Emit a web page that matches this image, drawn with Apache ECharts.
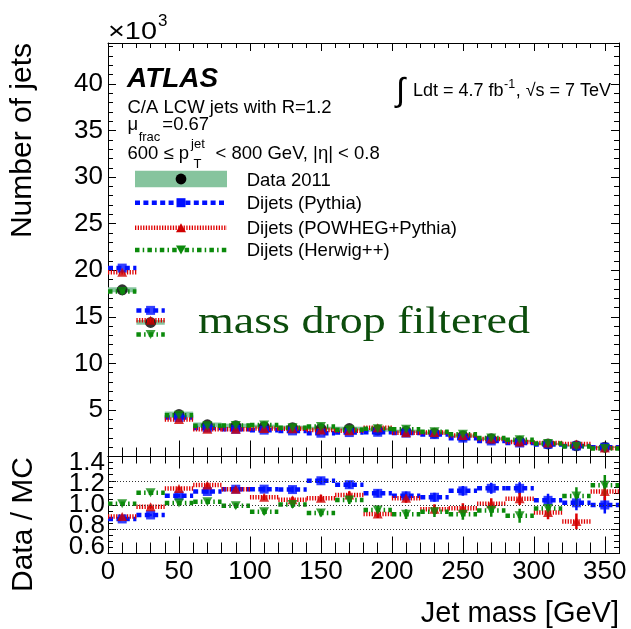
<!DOCTYPE html>
<html>
<head>
<meta charset="utf-8">
<script src="https://cdn.jsdelivr.net/npm/echarts@6/dist/echarts.min.js"></script>
<style>
  html, body { margin: 0; padding: 0; background: #fff; }
  #chart { width: 631px; height: 629px; }
</style>
</head>
<body>
<div id="chart"></div>
<script>
// Jet mass bins (GeV): centres of 20 GeV wide bins
const binCenters = [10, 30, 50, 70, 90, 110, 130, 150, 170, 190, 210, 230, 250, 270, 290, 310, 330, 350];
const binHalfWidth = 10;

// Number of jets per bin
const dataCounts = [17900, 14400, 4500, 3400, 3300, 3200, 3100, 3000, 3000, 2850, 2700, 2500, 2200, 1900, 1650, 1350, 1150, 1000];
const dataSyst   = [270, 250, 320, 250, 230, 220, 210, 200, 200, 190, 180, 170, 160, 140, 130, 110, 100, 90];
const pythia     = [20230, 15690, 4180, 3060, 2920, 2830, 2750, 2500, 2570, 2600, 2510, 2350, 1970, 1670, 1450, 1300, 1130, 1000];
const powheg     = [19780, 14620, 3960, 2920, 2920, 3010, 2970, 2840, 2770, 3080, 2560, 2590, 2260, 1880, 1570, 1440, 1330, 900];
const herwig     = [17720, 13090, 4430, 3310, 3320, 3390, 3090, 3210, 2880, 2970, 2920, 2650, 2380, 1990, 1810, 1390, 1070, 860];

// Statistical uncertainty on Data / MC
const pythiaRatioErr = [0.008, 0.01, 0.015, 0.018, 0.02, 0.022, 0.025, 0.028, 0.03, 0.032, 0.035, 0.038, 0.04, 0.045, 0.05, 0.055, 0.06, 0.07];
const powhegRatioErr = [0.008, 0.01, 0.015, 0.018, 0.02, 0.022, 0.025, 0.028, 0.03, 0.033, 0.036, 0.04, 0.042, 0.046, 0.05, 0.056, 0.065, 0.075];
const herwigRatioErr = [0.01, 0.012, 0.016, 0.02, 0.022, 0.025, 0.028, 0.03, 0.033, 0.036, 0.04, 0.043, 0.047, 0.052, 0.058, 0.065, 0.072, 0.085];

// Axis ranges and ratio tick labels
const massRange  = [0, 360];
const countRange = [0, 44400];
const ratioRange = [0.6, 1.4];
const ratioTicks = [0.6, 0.8, 1.0, 1.2, 1.4];
const ratioGuides = [0.8, 1.0, 1.2];

const SANS = '"Liberation Sans", Arial, Helvetica, sans-serif';
const SERIF = '"Liberation Serif", "Times New Roman", serif';
const C_BLUE = '#0010ff', C_RED = '#e00000', C_RED_MK = '#d00000', C_GREEN = '#0b8a0b', C_BAND = '#86c49e';

const mcSamples = [
  { name: 'Dijets (Pythia)', values: pythia, err: pythiaRatioErr, color: C_BLUE, mark: C_BLUE,
    dash: [5, 3.4], symbol: 'rect', size: [9, 9], rotate: 0 },
  { name: 'Dijets (POWHEG+Pythia)', values: powheg, err: powhegRatioErr, color: C_RED, mark: C_RED_MK,
    dash: [1.3, 1.4], symbol: 'triangle', size: [10, 9], rotate: 0 },
  { name: 'Dijets (Herwig++)', values: herwig, err: herwigRatioErr, color: C_GREEN, mark: C_GREEN,
    dash: [4.5, 3.2, 1.5, 3.2], symbol: 'triangle', size: [10, 9], rotate: 180 }
];

// Horizontal bin-width bar plus optional vertical error bar, drawn per bin
function binBar(color, dash) {
  return function (params, api) {
    const x = api.value(0), y = api.value(1), e = api.value(2);
    const a = api.coord([x - binHalfWidth, y]);
    const b = api.coord([x + binHalfWidth, y]);
    const children = [{
      type: 'line', shape: { x1: a[0], y1: a[1], x2: b[0], y2: b[1] },
      style: { stroke: color, lineWidth: 4.5, lineDash: dash, fill: null }
    }];
    if (e > 0) {
      const lo = api.coord([x, y - e]), hi = api.coord([x, y + e]);
      children.push({
        type: 'line', shape: { x1: lo[0], y1: lo[1], x2: hi[0], y2: hi[1] },
        style: { stroke: color, lineWidth: 2.5, fill: null }
      });
    }
    return { type: 'group', children };
  };
}

// Systematic band around the data points
function bandRect(params, api) {
  const x = api.value(0), y = api.value(1), e = api.value(2);
  const p0 = api.coord([x - binHalfWidth, y + e]);
  const p1 = api.coord([x + binHalfWidth, y - e]);
  return { type: 'rect', shape: { x: p0[0], y: p0[1], width: p1[0] - p0[0], height: p1[1] - p0[1] },
           style: { fill: C_BAND } };
}

const series = [];
// Upper panel: data band and points
series.push({ type: 'custom', name: 'Data 2011 band', xAxisIndex: 0, yAxisIndex: 0, renderItem: bandRect,
  data: binCenters.map((x, i) => [x, dataCounts[i], dataSyst[i]]), z: 2 });
series.push({ type: 'scatter', name: 'Data 2011', xAxisIndex: 0, yAxisIndex: 0, symbol: 'circle', symbolSize: 11,
  itemStyle: { color: '#000' }, data: binCenters.map((x, i) => [x, dataCounts[i]]), z: 3 });

mcSamples.forEach(s => {
  // upper panel
  series.push({ type: 'custom', name: s.name + ' bins', xAxisIndex: 0, yAxisIndex: 0, renderItem: binBar(s.color, s.dash),
    data: binCenters.map((x, i) => [x, s.values[i], 0]), z: 4 });
  series.push({ type: 'scatter', name: s.name, xAxisIndex: 0, yAxisIndex: 0, symbol: s.symbol, symbolSize: s.size,
    symbolRotate: s.rotate, itemStyle: { color: s.mark }, data: binCenters.map((x, i) => [x, s.values[i]]), z: 4 });
  // ratio panel
  const ratio = binCenters.map((x, i) => dataCounts[i] / s.values[i]);
  series.push({ type: 'custom', name: s.name + ' ratio bins', xAxisIndex: 2, yAxisIndex: 2, renderItem: binBar(s.color, s.dash),
    data: binCenters.map((x, i) => [x, ratio[i], s.err[i]]), z: 4, clip: true });
  series.push({ type: 'scatter', name: s.name + ' ratio', xAxisIndex: 2, yAxisIndex: 2, symbol: s.symbol, symbolSize: s.size,
    symbolRotate: s.rotate, itemStyle: { color: s.mark }, data: binCenters.map((x, i) => [x, ratio[i]]), z: 4 });
});

// Dotted guide lines in the ratio panel
series.push({ type: 'line', name: 'guides', xAxisIndex: 2, yAxisIndex: 2, data: [], silent: true,
  markLine: { silent: true, symbol: 'none', label: { show: false },
    lineStyle: { color: '#333', width: 1, type: [1, 2] },
    data: ratioGuides.map(v => ({ yAxis: v })) }, z: 1 });

const black = { color: '#000', width: 1 };
function xAxis(grid, pos, tick, minor, label) {
  return {
    type: 'value', gridIndex: grid, position: pos, min: massRange[0], max: massRange[1], interval: 50,
    axisLine: { show: true, onZero: false, lineStyle: black },
    axisTick: { show: true, inside: true, length: tick, lineStyle: black },
    minorTick: { show: true, splitNumber: 5, length: minor, lineStyle: black },
    splitLine: { show: false },
    axisLabel: label ? {
      show: true, margin: 5, fontFamily: SANS, fontSize: 26, color: '#000',
      showMinLabel: true, hideOverlap: false,
      formatter: v => (v % 50 === 0 && v <= 350) ? String(v) : ''
    } : { show: false }
  };
}
function yAxis(grid, pos, range, interval, minorSplit, label) {
  return {
    type: 'value', gridIndex: grid, position: pos, min: range[0], max: range[1], interval: interval,
    axisLine: { show: true, onZero: false, lineStyle: black },
    axisTick: { show: true, inside: true, length: 8, lineStyle: black },
    minorTick: { show: true, splitNumber: minorSplit, length: 5, lineStyle: black },
    splitLine: { show: false },
    axisLabel: label || { show: false }
  };
}

// Text helpers
const measureCtx = document.createElement('canvas').getContext('2d');
function textWidth(str, font) { measureCtx.font = font; return measureCtx.measureText(str).width; }
function textEl(x, baseline, text, size, opts) {
  opts = opts || {};
  const family = opts.family || SANS;
  const weight = opts.weight || 'normal';
  const fstyle = opts.italic ? 'italic' : 'normal';
  const el = {
    type: 'text', x: x, y: baseline - 0.31 * size, silent: true,
    style: { text: text, fontSize: size, fontFamily: family, fontWeight: weight, fontStyle: fstyle,
             fill: opts.color || '#000', align: opts.align || 'left', verticalAlign: 'middle',
             textAlign: opts.align || 'left', textVerticalAlign: 'middle' }
  };
  if (opts.fitWidth) {
    el.scaleX = opts.fitWidth / textWidth(text, `${fstyle} ${weight} ${size}px ${family}`);
  }
  return el;
}
function run(x, baseline, parts) {
  const els = [];
  let cx = x;
  parts.forEach(p => {
    cx += p.gap || 0;
    els.push(textEl(cx, baseline + (p.dy || 0), p.text, p.size));
    if (!p.hold) cx += textWidth(p.text, `normal normal ${p.size}px ${SANS}`);
  });
  return els;
}
function vText(x, yTop, text, size) {
  return { type: 'text', x: x, y: yTop, rotation: Math.PI / 2, silent: true,
    style: { text: text, fontSize: size, fontFamily: SANS, fill: '#000', align: 'right', verticalAlign: 'middle',
             textAlign: 'right', textVerticalAlign: 'middle' } };
}

const graphics = [];
// Axis titles
graphics.push(vText(23, 43, 'Number of jets', 30));
graphics.push(vText(23.5, 457, 'Data / MC', 30));
graphics.push(textEl(619, 622.5, 'Jet mass [GeV]', 29, { align: 'right' }));
// Exponent of the count axis
graphics.push(textEl(108, 39.5, '\u00d710', 24, { fitWidth: 49 }));
graphics.push(textEl(158, 27, '3', 17));
// Labels
graphics.push(textEl(127, 88, 'ATLAS', 28, { weight: 'bold', italic: true }));
graphics.push(textEl(127.5, 113.3, 'C/A LCW jets with R=1.2', 18.5));
graphics.push(...run(127.5, 131, [
  { text: '\u03bc', size: 18.5 },
  { text: 'frac', size: 13, dy: 10.5, gap: 0.5 },
  { text: '=0.67', size: 18.5, gap: 2 }
]));
graphics.push(...run(127.5, 159.3, [
  { text: '600 \u2264 p', size: 18.5 },
  { text: 'jet', size: 13, dy: -11, gap: 2, hold: true },
  { text: 'T', size: 13, dy: 9.5, gap: 2.5 },
  { text: '< 800 GeV, |\u03b7| < 0.8', size: 18.5, gap: 14 }
]));
// Luminosity and energy
graphics.push(textEl(396, 102, '\u222b', 33));
graphics.push(...run(413, 96.7, [
  { text: 'Ldt = 4.7 fb', size: 18 },
  { text: '-1', size: 12.5, dy: -8, gap: 0.5 },
  { text: ', \u221as = 7 TeV', size: 18, gap: 0.5 }
]));
graphics.push(textEl(198, 335, 'mass drop filtered', 37, { family: SERIF, color: '#0c4d0c', fitWidth: 332 }));

// Legend
const legX0 = 135, legX1 = 227, legXm = 181, legTextX = 246.7;
graphics.push({ type: 'rect', shape: { x: legX0, y: 170.7, width: legX1 - legX0, height: 16.6 }, style: { fill: C_BAND }, silent: true });
graphics.push({ type: 'circle', shape: { cx: legXm, cy: 179, r: 5.4 }, style: { fill: '#000' }, silent: true });
graphics.push(textEl(legTextX, 186.5, 'Data 2011', 18.5));
const legRows = [202.7, 227.8, 250];
mcSamples.forEach((s, k) => {
  const y = legRows[k];
  graphics.push({ type: 'line', shape: { x1: legX0, y1: y, x2: legX1, y2: y },
    style: { stroke: s.color, lineWidth: 4.5, lineDash: s.dash }, silent: true });
  let shape;
  if (s.symbol === 'rect') {
    shape = { type: 'rect', shape: { x: legXm - 4.5, y: y - 4.5, width: 9, height: 9 } };
  } else if (s.rotate === 0) {
    shape = { type: 'polygon', shape: { points: [[legXm - 5, y + 4.5], [legXm + 5, y + 4.5], [legXm, y - 4.5]] } };
  } else {
    shape = { type: 'polygon', shape: { points: [[legXm - 5, y - 4.5], [legXm + 5, y - 4.5], [legXm, y + 4.5]] } };
  }
  shape.style = { fill: s.mark };
  shape.silent = true;
  graphics.push(shape);
  graphics.push(textEl(legTextX, y + 6.8, s.name, 18.5));
});

const chart = echarts.init(document.getElementById('chart'), null, { renderer: 'canvas' });
chart.setOption({
  animation: false,
  backgroundColor: '#fff',
  grid: [
    { left: 108, top: 43, width: 511, height: 413.5, outerBoundsMode: 'none', containLabel: false },
    { left: 108, top: 456.5, width: 511, height: 97, outerBoundsMode: 'none', containLabel: false }
  ],
  xAxis: [
    xAxis(0, 'bottom', 16, 9, false),
    xAxis(0, 'top', 8, 5, false),
    xAxis(1, 'bottom', 17, 11, true),
    xAxis(1, 'top', 12, 7, false)
  ],
  yAxis: [
    yAxis(0, 'left', countRange, 5000, 5, {
      show: true, margin: 5, fontFamily: SANS, fontSize: 26, color: '#000', hideOverlap: false,
      formatter: v => (v > 0 && v % 5000 === 0 && v <= 40000) ? String(v / 1000) : ''
    }),
    yAxis(0, 'right', countRange, 5000, 5, null),
    yAxis(1, 'left', ratioRange, 0.2, 4, null),
    yAxis(1, 'right', ratioRange, 0.2, 4, null)
  ],
  series: series,
  graphic: { elements: graphics }
});

// Ratio-axis tick labels: the tall 26px text does not fit the short panel, so the labels are
// taken from the axis' pixel positions and drawn slightly packed towards the panel centre.
const ratioMid = chart.convertToPixel({ yAxisIndex: 2 }, 1.0);
const ratioLabels = ratioTicks.map(v => {
  const py = chart.convertToPixel({ yAxisIndex: 2 }, v);
  return { type: 'text', x: 105, y: ratioMid + (py - ratioMid) * 0.87, silent: true, z: 10,
    style: { text: v.toFixed(1), fontSize: 26, fontFamily: SANS, fill: '#000',
             align: 'right', verticalAlign: 'middle', textAlign: 'right', textVerticalAlign: 'middle' } };
});
chart.setOption({ graphic: { elements: graphics.concat(ratioLabels) } });
</script>
</body>
</html>
